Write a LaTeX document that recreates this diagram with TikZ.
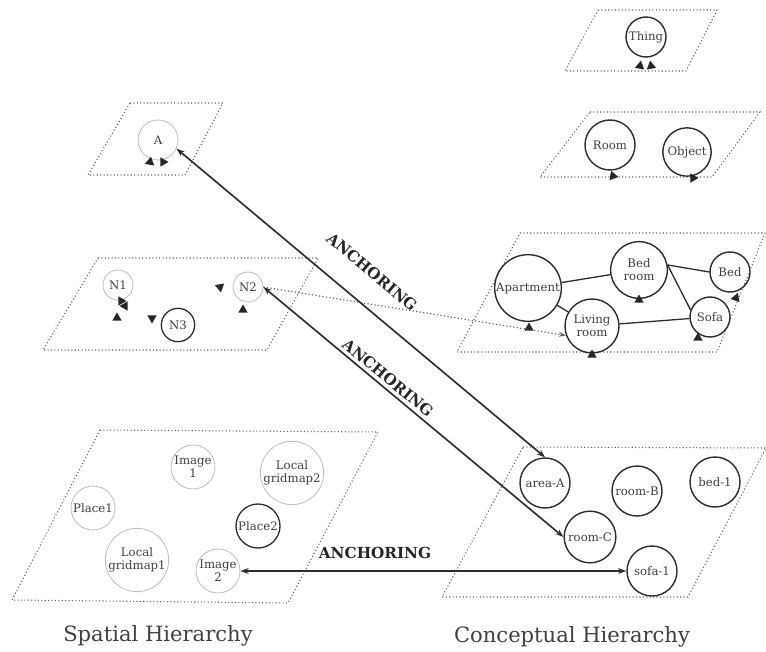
\documentclass[tikz,border=0pt]{standalone}
\usepackage{fontspec}
\setmainfont{DejaVu Serif}
\usetikzlibrary{arrows.meta, positioning, shapes.geometric}
\definecolor{planegray}{RGB}{95, 95, 95}
\definecolor{spatgray}{RGB}{190, 190, 190}
\definecolor{nodedark}{RGB}{45, 45, 45}

\begin{document}
\begin{tikzpicture}[x=0.03cm, y=-0.03cm,
        plane/.style={draw=planegray, dotted, line width=0.9pt},
        spat/.style={circle, draw=spatgray, line width=0.7pt, inner sep=0pt, align=center,
          font=\fontsize{10}{11}\selectfont, text=black!75},
        spatd/.style={spat, draw=nodedark, line width=1.1pt},
        conc/.style={circle, draw=nodedark, line width=1.2pt, inner sep=0pt, align=center,
          font=\fontsize{10}{11}\selectfont, text=black!75},
        rel/.style={nodedark, line width=1.1pt},
        anch/.style={{Stealth[length=7pt, width=5pt]}-{Stealth[length=7pt, width=5pt]}, nodedark, line width=1.4pt},
        alink/.style={-{Stealth[length=6pt, width=4pt]}, planegray, dotted, line width=1pt},
        tipm/.style={isosceles triangle, isosceles triangle apex angle=60, fill=black!85,
          inner sep=0pt, minimum height=7pt},
        albl/.style={font=\fontsize{13}{14}\selectfont\bfseries, text=black!85},
        hlbl/.style={font=\fontsize{18}{20}\selectfont, text=black!75}
      ]
        \useasboundingbox (0,0) rectangle (766,651);
        % planes
        \draw[plane] (130,103) -- (223,103) -- (185,175) -- (88,175) -- cycle;
        \draw[plane] (98,258) -- (318,258) -- (267,350) -- (43,350) -- cycle;
        \draw[plane] (100,430) -- (378,432) -- (288,603) -- (12,600) -- cycle;
        \draw[plane] (598,10) -- (717,10) -- (686,71) -- (565,71) -- cycle;
        \draw[plane] (590,112) -- (760,112) -- (712,177) -- (540,177) -- cycle;
        \draw[plane] (520,233) -- (765,233) -- (717,352) -- (457,352) -- cycle;
        \draw[plane] (523,447) -- (766,448) -- (688,597) -- (442,597) -- cycle;
        % spatial hierarchy
        \node[spat, minimum size=1.2cm] (A) at (158,140) {A};
        \node[spat, minimum size=0.9cm] (N1) at (118,285) {N1};
        \node[spat, minimum size=0.9cm] (N2) at (248,287) {N2};
        \node[spatd, minimum size=1.0cm] (N3) at (178,325) {N3};
        \node[spat, minimum size=1.32cm] (img1) at (193,467) {Image\\1};
        \node[spat, minimum size=1.9cm] (lgrid2) at (292,473) {Local\\gridmap2};
        \node[spat, minimum size=1.32cm] (place1) at (93,508) {Place1};
        \node[spatd, minimum size=1.32cm] (place2) at (258,526) {Place2};
        \node[spat, minimum size=1.9cm] (lgrid1) at (137,560) {Local\\gridmap1};
        \node[spat, minimum size=1.32cm] (img2) at (218,571) {Image\\2};
        % conceptual hierarchy
        \node[conc, minimum size=1.2cm] (thing) at (646,37) {Thing};
        \node[conc, minimum size=1.5cm] (room) at (610,145) {Room};
        \node[conc, minimum size=1.45cm] (object) at (687,152) {Object};
        \node[conc, minimum size=2cm] (apart) at (528,288) {Apartment};
        \node[conc, minimum size=1.7cm] (bedroom) at (639,270) {Bed\\room};
        \node[conc, minimum size=1.62cm] (living) at (592,326) {Living\\room};
        \node[conc, minimum size=1.2cm] (bed) at (730,272) {Bed};
        \node[conc, minimum size=1.2cm] (sofa) at (710,317) {Sofa};
        \node[conc, minimum size=1.5cm] (areaA) at (545,483) {area-A};
        \node[conc, minimum size=1.5cm] (roomB) at (637,491) {room-B};
        \node[conc, minimum size=1.5cm] (bed1) at (715,482) {bed-1};
        \node[conc, minimum size=1.55cm] (roomC) at (590,537) {room-C};
        \node[conc, minimum size=1.5cm] (sofa1) at (652,571) {sofa-1};
        \draw[rel] (apart) -- (bedroom);
        \draw[rel] (apart) -- (living);
        \draw[rel] (bedroom.10) -- (bed.180);
        \draw[rel] (bedroom.10) -- (sofa.160);
        \draw[rel] (living) -- (sofa);
        % edge stubs
        \foreach \x/\y/\a [count=\i] in {640/66/80, 651/66/100, 613/176/110, 693/178/120,
            150/162/80, 163/162/120, 121/301/120, 125/306/60, 117/318/90, 152/318/150,
            220/287/160, 243/310/90, 529/328/90, 639/300/90, 592/355/90, 698/338/90, 736/298/70}
          { \node[tipm, rotate=\a] (tip\i) at (\x,\y) {}; }
        % anchoring
        \draw[alink] (N2.east) -- (living.200);
        \draw[anch] (A.-25) -- (areaA.north);
        \draw[anch] (N2.east) -- (roomC.west);
        \draw[anch] (img2.east) -- (sofa1.west);
        \node[albl, rotate=-40] (alb1) at (372,272) {ANCHORING};
        \node[albl, rotate=-39.5] (alb2) at (388,378) {ANCHORING};
        \node[albl] (alb3) at (375,553) {ANCHORING};
        \node[hlbl] (spatial) at (158,636) {Spatial Hierarchy};
        \node[hlbl] (concept) at (572,637) {Conceptual Hierarchy};
      \end{tikzpicture}
\end{document}
